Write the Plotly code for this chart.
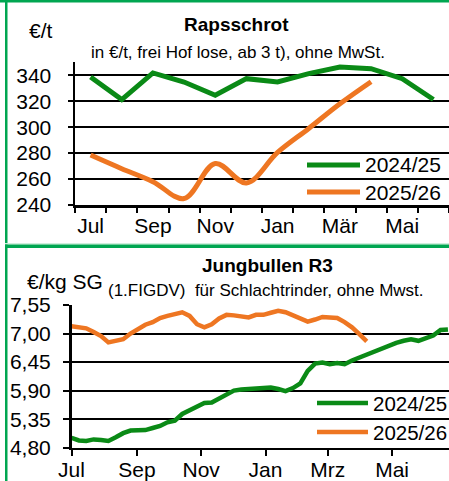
import plotly.graph_objects as go
import pandas as pd

W, H = 449, 481

# ---------------- data ----------------
series_names = ["2024/25", "2025/26"]

# Rapsschrot (€/t), monthly
months_top = ["Jul", "Aug", "Sep", "Okt", "Nov", "Dez", "Jan", "Feb", "Mär", "Apr", "Mai", "Jun"]
raps_2425 = [338.7, 321.3, 341.8, 334.8, 324.6, 337.4, 334.8, 341.3, 346.4, 345.1, 337.4, 321.3]
raps_2526 = [278.5, 268.0, 258.0, 245.0, 272.0, 257.0, 280.5, 299.0, 318.0, 335.0]
raps_ticks = [240, 260, 280, 300, 320, 340]

# Jungbullen R3 (€/kg SG), weekly
season_weeks = pd.date_range("2024-07-01", periods=52, freq="7D")
bull_2425 = [4.99, 4.94, 4.93, 4.96, 4.95, 4.93, 5.00, 5.08, 5.13, 5.14,
             5.14, 5.18, 5.22, 5.29, 5.32, 5.45, 5.52, 5.58, 5.66, 5.67,
             5.74, 5.82, 5.90, 5.92, 5.93, 5.94, 5.93, 5.96, 5.93, 5.89,
             5.95, 6.04, 6.28, 6.42, 6.44, 6.41, 6.43, 6.41, 6.48, 6.54,
             6.59, 6.64, 6.70, 6.78, 6.82, 6.86, 6.89, 6.86, 6.91, 6.96,
             7.07, 7.08]
bull_2526 = [7.14, 7.12, 7.10, 7.03, 6.95, 6.83, 6.85, 6.89, 7.00, 7.09,
             7.17, 7.22, 7.30, 7.34, 7.37, 7.41, 7.34, 7.18, 7.12, 7.18,
             7.29, 7.36, 7.35, 7.33, 7.31, 7.36, 7.36, 7.40, 7.44, 7.41,
             7.35, 7.30, 7.23, 7.27, 7.32, 7.31, 7.30, 7.22, 7.12, 6.99,
             6.85]
bull_tickvals = ["2024-07-01", "2024-09-01", "2024-11-01", "2025-01-01", "2025-03-01", "2025-05-01"]
bull_ticktext = ["Jul", "Sep", "Nov", "Jan", "Mrz", "Mai"]

# ---------------- style ----------------
GREEN = "#0A8A16"
ORANGE = "#EE7622"
BORDER = "#00A651"
FONT = "Liberation Sans Narrow, Arial Narrow, Liberation Sans, Arial, sans-serif"


def px(x):
    return x / W


def py(y):
    return 1 - y / H


fig = go.Figure()

fig.add_trace(go.Scatter(x=months_top, y=raps_2425, mode="lines", name=series_names[0],
                         line=dict(color=GREEN, width=5), xaxis="x", yaxis="y", showlegend=False))
fig.add_trace(go.Scatter(x=months_top[:len(raps_2526)], y=raps_2526, mode="lines", name=series_names[1],
                         line=dict(color=ORANGE, width=5, shape="spline"), xaxis="x", yaxis="y",
                         showlegend=False))
fig.add_trace(go.Scatter(x=season_weeks, y=bull_2425, mode="lines", name=series_names[0],
                         line=dict(color=GREEN, width=4.5), xaxis="x2", yaxis="y2", showlegend=False))
fig.add_trace(go.Scatter(x=season_weeks[:len(bull_2526)], y=bull_2526, mode="lines", name=series_names[1],
                         line=dict(color=ORANGE, width=4.5), xaxis="x2", yaxis="y2", showlegend=False))

axis_common = dict(showline=True, linecolor="black", linewidth=2.5, ticks="outside",
                   tickcolor="black", tickwidth=2, zeroline=False, automargin=False,
                   tickangle=0, tickfont=dict(family=FONT, size=21, color="black"))

fig.update_layout(
    width=W, height=H,
    margin=dict(l=0, r=0, t=0, b=0, pad=0, autoexpand=False),
    paper_bgcolor="white", plot_bgcolor="white",
    separators=",.",
    font=dict(family=FONT, color="black"),
    hovermode=False,
    xaxis=dict(axis_common, domain=[px(75), 1], anchor="y", type="category",
               categoryorder="array", categoryarray=months_top,
               tickson="boundaries", ticklen=5, showgrid=False,
               tickvals=months_top,
               ticktext=[m if i % 2 == 0 else "" for i, m in enumerate(months_top)],
               range=[-0.5, len(months_top) - 0.5]),
    yaxis=dict(axis_common, domain=[py(205), py(62.3)], anchor="x",
               range=[240, 350], tickvals=raps_ticks, ticklen=5,
               showgrid=True, gridcolor="black", gridwidth=2, ticklabelstandoff=12),
    xaxis2=dict(axis_common, domain=[px(71.5), 1], anchor="y2", type="date",
                range=["2024-07-01", "2025-06-24"], tickvals=bull_tickvals,
                ticktext=bull_ticktext, ticklen=6, showgrid=False, ticklabelstandoff=-4),
    yaxis2=dict(axis_common, domain=[py(447.7), py(305)], anchor="x2",
                range=[4.80, 7.55], tick0=4.80, dtick=0.55, tickformat=".2f", ticklen=6,
                showgrid=True, gridcolor="black", gridwidth=2, ticklabelstandoff=8),
)

shapes = [
    dict(type="rect", xref="paper", yref="paper", x0=0, x1=1, y0=py(2.5), y1=1,
         fillcolor=BORDER, line_width=0),
    dict(type="rect", xref="paper", yref="paper", x0=px(5), x1=px(7.5), y0=0, y1=1,
         fillcolor=BORDER, line_width=0),
    dict(type="rect", xref="paper", yref="paper", x0=px(5), x1=1, y0=py(244.5), y1=py(243),
         fillcolor="#CDEFDC", line_width=0),
    dict(type="rect", xref="paper", yref="paper", x0=px(5), x1=1, y0=py(248), y1=py(244.5),
         fillcolor=BORDER, line_width=0),
]

# manual legends
legend_spec = [
    (307, 360, 363, [165, 192], 5, 21),
    (317, 368, 371, [403, 432], 4.5, 20.5),
]
annotations = []
for (lx0, lx1, tx, ys, lw, fs) in legend_spec:
    for name, color, yy in zip(series_names, [GREEN, ORANGE], ys):
        shapes.append(dict(type="line", xref="paper", yref="paper", x0=px(lx0), x1=px(lx1),
                           y0=py(yy), y1=py(yy), line=dict(color=color, width=lw)))
        annotations.append(dict(text=name, xref="paper", yref="paper", x=px(tx), y=py(yy),
                                xanchor="left", yanchor="middle", showarrow=False,
                                font=dict(family=FONT, size=fs, color="black")))

texts = [
    ("<b>Rapsschrot</b>", 237, 24, 19, "center"),
    ("in €/t, frei Hof lose, ab 3 t), ohne MwSt.", 238, 53, 17, "center"),
    ("€/t", 27, 30, 21, "left"),
    ("<b>Jungbullen R3</b>", 267, 265, 19, "center"),
    ("(1.FIGDV)  für Schlachtrinder, ohne Mwst.", 266, 290, 17, "center"),
    ("€/kg SG", 25, 281, 21, "left"),
]
for t, x, y, s, anc in texts:
    annotations.append(dict(text=t, xref="paper", yref="paper", x=px(x), y=py(y),
                            xanchor=anc, yanchor="middle", showarrow=False,
                            font=dict(family=FONT, size=s, color="black")))

fig.update_layout(shapes=shapes, annotations=annotations)
fig.write_html("out.html", config={"displayModeBar": False, "staticPlot": True},
               post_script="document.body.style.margin='0';document.body.style.overflow='hidden';")
